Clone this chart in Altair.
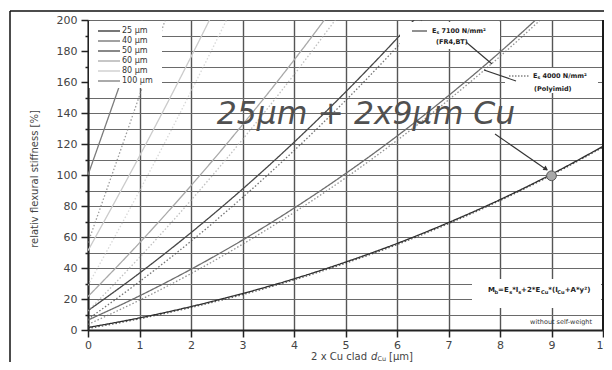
import altair as alt
import pandas as pd

FONT = "DejaVu Sans"
PW, PH = 515, 310

# ---------------- data ----------------
x_cu = [0, 1, 2, 3, 4, 5, 6, 7, 8, 9, 10]
thickness = ["25 µm", "40 µm", "50 µm", "60 µm", "80 µm", "100 µm"]
line_colors = ["#2e2e2e", "#6e6e6e", "#474747", "#a9a9a9", "#cbcbcb", "#7c7c7c"]

# E_s = 7100 N/mm² (FR4, BT) - solid
s25 = [1.6, 7.8, 15.1, 23.5, 33.0, 43.8, 55.8, 69.3, 84.1, 100.5, 118.5]
s40 = [6.4, 22.0, 39.2, 58.0, 78.6, 100.9, 125.1, 151.2, 179.3, 209.5]
s50 = [12.5, 36.7, 62.8, 90.9, 121.1, 153.5, 188.1, 225.0]
s60 = [21.6, 56.2, 93.1, 132.4, 174.1, 218.4]
s80 = [51.2, 112.2, 176.2, 243.4]
s100 = [100.0, 194.8, 293.5]
# E_s = 4000 N/mm² (Polyimid) - dotted
d25 = [0.9, 7.2, 14.5, 22.8, 32.3, 43.1, 55.1, 68.6, 83.5, 99.9, 117.9]
d40 = [3.6, 19.2, 36.4, 55.3, 75.8, 98.1, 122.3, 148.4, 176.5, 206.7]
d50 = [7.0, 31.2, 57.3, 85.5, 115.7, 148.0, 182.6, 219.5]
d60 = [12.2, 46.8, 83.7, 122.9, 164.7, 208.9]
d80 = [28.8, 89.8, 153.9, 221.0]
d100 = [56.3, 151.2, 249.8]

marker_x = [9]
marker_y = [99.5]

solid = [s25, s40, s50, s60, s80, s100]
dotted = [d25, d40, d50, d60, d80, d100]

rows = []
for t, sv, dv in zip(thickness, solid, dotted):
    for mod, arr in (("7100", sv), ("4000", dv)):
        for xv, yv in zip(x_cu, arr):
            rows.append({"t": t, "m": mod, "x": xv, "y": yv})
df = pd.DataFrame(rows)
one = pd.DataFrame({"k": [0]})

xscale = alt.Scale(domain=[0, 10], nice=False, zero=False)
yscale = alt.Scale(domain=[0, 200], nice=False, zero=False)

xaxis = alt.Axis(
    values=[i * 0.5 for i in range(21)], format="d",
    labelExpr="datum.value % 1 === 0 ? datum.label : ''",
    title=None, grid=True, gridColor="#555555", gridWidth=1.4,
    gridOpacity={"condition": {"test": "datum.value % 1 === 0", "value": 1}, "value": 0},
    tickColor="#222222", tickWidth=1.5,
    tickSize={"condition": {"test": "datum.value % 1 === 0", "value": 7}, "value": 4},
    domainColor="#222222", domainWidth=2,
    labelFont=FONT, labelFontSize=11, labelColor="#444444", labelPadding=2,
    labelFlush=False, labelOverlap=False)

yaxis = alt.Axis(
    values=list(range(0, 201, 10)),
    labelExpr="datum.value % 20 === 0 ? datum.label : ''",
    title=None, grid=True, gridColor="#6a6a6a", gridWidth=1,
    tickColor="#222222", tickWidth=1.5,
    tickSize={"condition": {"test": "datum.value % 20 === 0", "value": 7}, "value": 3},
    domainColor="#222222", domainWidth=2,
    labelFont=FONT, labelFontSize=11, labelColor="#444444", labelPadding=4,
    labelOverlap=False)

lines = alt.Chart(df).mark_line(clip=True, strokeWidth=1.3, interpolate="monotone").encode(
    x=alt.X("x:Q", scale=xscale, axis=xaxis),
    y=alt.Y("y:Q", scale=yscale, axis=yaxis),
    color=alt.Color("t:N", scale=alt.Scale(domain=thickness, range=line_colors), legend=None),
    strokeDash=alt.StrokeDash("m:N", scale=alt.Scale(domain=["7100", "4000"], range=[[1, 0], [1.5, 2]]), legend=None),
    strokeOpacity=alt.StrokeOpacity("m:N", scale=alt.Scale(domain=["7100", "4000"], range=[1, 0.75]), legend=None),
)

mirror = alt.Chart(pd.DataFrame({"x": [0], "y": [0]})).mark_point(opacity=0).encode(
    x=alt.X("x:Q", scale=xscale, axis=None),
    y=alt.Y("y:Q", scale=yscale, axis=alt.Axis(orient="right", values=list(range(0, 201, 10)),
            labels=False, grid=False, domain=False, tickSize=3, tickColor="#222222",
            tickWidth=1.2, title=None)),
)

marker = alt.Chart(pd.DataFrame({"x": marker_x, "y": marker_y})).mark_point(
    filled=True, size=95, color="#a8a8a8", stroke="#555555", strokeWidth=1, opacity=1
).encode(x=alt.X("x:Q", scale=xscale, axis=None), y=alt.Y("y:Q", scale=yscale, axis=None))


# ---------------- helpers for decoration ----------------
CW = {' ': .318, '0': .636, '1': .636, '2': .636, '3': .636, '4': .636, '5': .636, '6': .636,
      '7': .636, '8': .636, '9': .636, 'A': .684, 'B': .686, 'C': .698, 'E': .632, 'F': .575,
      'I': .295, 'M': .863, 'N': .748, 'P': .603, 'R': .695, 'T': .611, 'a': .613, 'b': .635,
      'c': .55, 'd': .635, 'e': .615, 'i': .278, 'l': .278, 'm': .974, 'o': .612, 'r': .411,
      's': .521, 'u': .634, 'x': .592, 'y': .592, '(': .39, ')': .39, '[': .39,
      ']': .39, '*': .5, '+': .838, '=': .838, ',': .318, '/': .337, '²': .401, 'µ': .636}


def tw(s, size, bold=False):
    return sum(CW.get(c, .6) for c in s) * size * (1.09 if bold else 1.0)


def T(text, x, y, size, align="left", weight="normal", style="normal", color="#222222",
      baseline="middle", angle=0):
    return alt.Chart(one).mark_text(
        text=text, align=align, baseline=baseline, fontSize=size, fontWeight=weight,
        fontStyle=style, color=color, font=FONT, angle=angle
    ).encode(x=alt.value(x), y=alt.value(y))


def rich(segs, x, y, size, weight="normal", color="#222222"):
    out = []
    cx = x
    for s, sub in segs:
        fs = size * 0.72 if sub else size
        yy = y + size * 0.3 if sub else y
        lead = len(s) - len(s.lstrip(" "))
        cx += tw(" " * lead, fs, weight == "bold")
        s2 = s.lstrip(" ")
        out.append(T(s2, cx, yy, fs, weight=weight, color=color))
        cx += tw(s2, fs, weight == "bold")
    return out


def rule(x, y, x2=None, y2=None, color="#222222", width=1.0, dash=None):
    enc = {"x": alt.value(x), "y": alt.value(y)}
    if x2 is not None:
        enc["x2"] = alt.value(x2)
    if y2 is not None:
        enc["y2"] = alt.value(y2)
    kw = {"color": color, "strokeWidth": width}
    if dash is not None:
        kw["strokeDash"] = dash
    return alt.Chart(one).mark_rule(**kw).encode(**enc)


def box(x, y, x2, y2):
    return alt.Chart(one).mark_rect(color="white", opacity=1).encode(
        x=alt.value(x), x2=alt.value(x2), y=alt.value(y), y2=alt.value(y2))


deco = []
# white boxes
deco += [box(1, 1, 74, 68), box(312, 2, 412, 29), box(417, 48, 510, 73), box(384, 259, 513, 288)]

# legend
for i, (lab, col) in enumerate(zip(thickness, line_colors)):
    yy = 11 + 10 * i
    deco.append(rule(10, yy, x2=32, color=col, width=1.3))
    deco.append(T(lab, 34, yy, 8, color="#333333"))

# annotation E_s 7100
deco.append(rule(324, 11, x2=339, color="#222222", width=1))
deco += rich([("E", False), ("s", True), (" 7100 N/mm²", False)], 344, 11, 6.5, weight="bold")
deco.append(T("(FR4,BT)", 348, 22, 6.5, weight="bold"))
deco.append(rule(378, 22, x2=404, y2=44, color="#333333", width=1.1))

# annotation E_s 4000
deco.append(rule(421, 56, x2=442, color="#444444", width=1, dash=[1.5, 1.5]))
deco += rich([("E", False), ("s", True), (" 4000 N/mm²", False)], 445, 56, 6.5, weight="bold")
deco.append(T("(Polyimid)", 446, 69, 6.5, weight="bold"))
deco.append(rule(396, 50, x2=428, y2=61, color="#333333", width=1.1))

# big label + arrow
deco.append(T("25µm + 2x9µm Cu", 278, 104, 31.5, align="center", style="italic",
              color="#505050", baseline="alphabetic"))
deco.append(rule(407, 114, x2=459, y2=150, color="#333333", width=1.1))
deco.append(alt.Chart(one).mark_point(shape="triangle-right", filled=True, size=28,
                                       color="#333333", angle=34, opacity=1)
            .encode(x=alt.value(458), y=alt.value(149)))

# formula
deco += rich([("M", False), ("b", True), ("=E", False), ("s", True), ("*I", False), ("s", True),
              ("+2*E", False), ("Cu", True), ("*(I", False), ("Cu", True), ("+A*y²)", False)],
             400, 270, 7, weight="bold")
deco.append(T("without self-weight", 504, 302, 6.5, align="right", color="#333333"))

# axis titles
deco.append(T("relativ flexural stiffness [%]", -53, 159, 10, align="center", angle=270,
              color="#444444"))
deco.append(T("2 x Cu clad", 279, 336.5, 10, align="right", color="#444444"))
deco.append(T("d", 283, 336.5, 10, style="italic", color="#444444"))
deco.append(T("Cu", 289.5, 338.5, 6.5, color="#444444"))
deco.append(T("[µm]", 301, 336.5, 10, color="#444444"))

# frames
deco.append(rule(PW, 0, y2=PH, color="#1a1a1a", width=2))
deco.append(rule(-78, -9, x2=700, color="#111111", width=1.5))
deco.append(rule(-78, -9, y2=500, color="#111111", width=1.5))

chart = alt.layer(lines, mirror, marker, *deco).resolve_axis(
    x="independent", y="independent"
).properties(
    width=PW, height=PH,
    padding={"left": 80, "top": 12, "right": 1, "bottom": 32},
    autosize=alt.AutoSizeParams(type="none"),
    background="white",
).configure_view(stroke=None)

chart.save("out.html", embed_options={"renderer": "svg", "actions": False})
